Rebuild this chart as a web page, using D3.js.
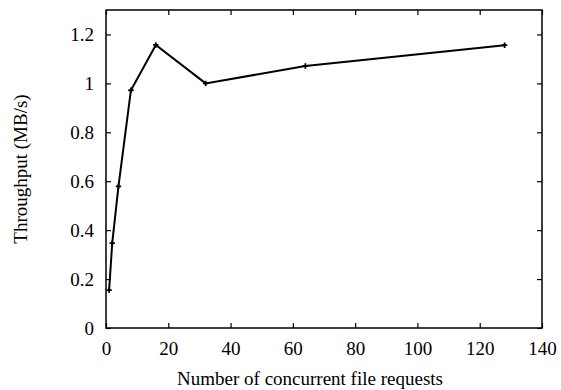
<!DOCTYPE html>
<html><head><meta charset="utf-8">
<script src="https://cdn.jsdelivr.net/npm/d3@7"></script>
<style>body{margin:0;background:#fff}svg{display:block}</style>
</head><body><svg id="c" width="561" height="390"></svg>
<script>
const requests = [1, 2, 4, 8, 16, 32, 64, 128];
const throughput = [0.155, 0.347, 0.579, 0.972, 1.157, 1.0, 1.071, 1.156];
const xTicks = [0, 20, 40, 60, 80, 100, 120, 140];
const yTicks = [0, 0.2, 0.4, 0.6, 0.8, 1, 1.2];
const xTitle = "Number of concurrent file requests";
const yTitle = "Throughput (MB/s)";

const FONT = "'Liberation Serif', 'DejaVu Serif', serif";
const svg = d3.select("#c");
const L = 106, R = 542, T = 10, B = 328;
const x = d3.scaleLinear().domain([0, 140]).range([L, R]);
const y = d3.scaleLinear().domain([0, 1.3]).range([B, T]);

const g = svg.append("g");
g.append("rect").attr("x", L).attr("y", T).attr("width", R - L).attr("height", B - T)
  .attr("fill", "none").attr("stroke", "#000").attr("stroke-width", 1.5);

const fs = 19;
const xb = g.append("g").attr("transform", `translate(0,${B})`)
  .call(d3.axisBottom(x).tickValues(xTicks).tickSize(-5).tickPadding(14).tickFormat(d3.format("d")));
const xt = g.append("g").attr("transform", `translate(0,${T})`)
  .call(d3.axisTop(x).tickValues(xTicks).tickSize(-5).tickFormat(""));
const yl = g.append("g").attr("transform", `translate(${L},0)`)
  .call(d3.axisLeft(y).tickValues(yTicks).tickSize(-5).tickPadding(12).tickFormat(d => String(d)));
const yr = g.append("g").attr("transform", `translate(${R},0)`)
  .call(d3.axisRight(y).tickValues(yTicks).tickSize(-5).tickFormat(""));
[xb, xt, yl, yr].forEach(a => {
  a.select(".domain").remove();
  a.attr("font-family", FONT).attr("font-size", fs);
  a.selectAll(".tick line").attr("stroke", "#000").attr("stroke-width", 1.2);
  a.selectAll(".tick text").attr("fill", "#000");
});

const pts = requests.map((r, i) => [r, throughput[i]]);
g.append("path").datum(pts)
  .attr("d", d3.line().x(d => x(d[0])).y(d => y(d[1])))
  .attr("fill", "none").attr("stroke", "#000").attr("stroke-width", 2);
g.selectAll(".m").data(pts).join("path").attr("class", "m")
  .attr("d", d3.symbol(d3.symbolCross, 16)())
  .attr("transform", d => `translate(${x(d[0])},${y(d[1])})`)
  .attr("fill", "#000");

svg.append("text").attr("x", 310).attr("y", 385).attr("text-anchor", "middle")
  .attr("font-family", FONT).attr("font-size", fs).attr("fill", "#000").text(xTitle);
svg.append("text").attr("transform", `translate(27,${(T + B) / 2}) rotate(-90)`)
  .attr("text-anchor", "middle").attr("font-family", FONT).attr("font-size", fs)
  .attr("fill", "#000").text(yTitle);
</script></body></html>
